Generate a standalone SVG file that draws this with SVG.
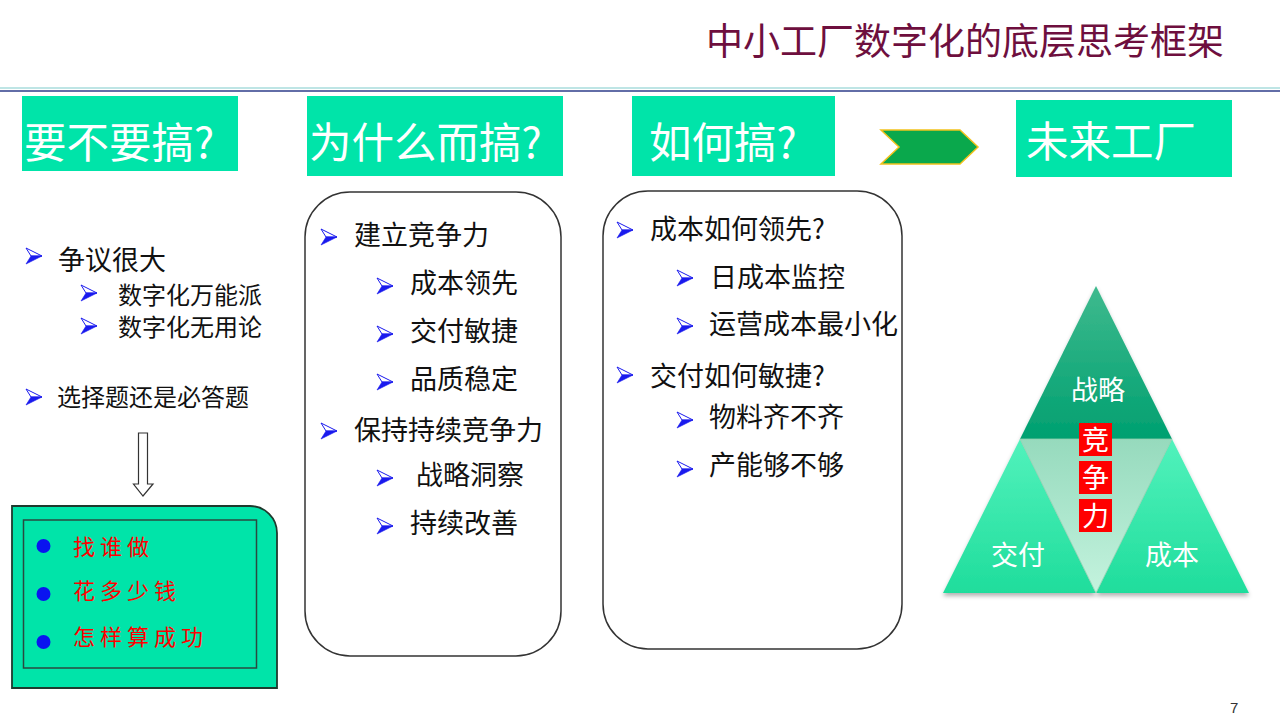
<svg xmlns="http://www.w3.org/2000/svg" width="1280" height="720" viewBox="0 0 1280 720">
<defs>
<style>
.cjk{font-family:'Noto Sans CJK SC','Noto Sans',sans-serif;}
.hd{font-family:'Noto Sans CJK SC','Noto Sans',sans-serif;fill:#ffffff;font-size:42.5px;}
.hbox{fill:#00e4a9;}
.t27{font-family:'Noto Sans CJK SC','Noto Sans',sans-serif;fill:#111111;font-size:27px;}
.t24{font-family:'Noto Sans CJK SC','Noto Sans',sans-serif;fill:#111111;font-size:24px;}
.red{font-family:'Noto Sans CJK SC','Noto Sans',sans-serif;fill:#ff0000;font-size:22px;letter-spacing:5px;}
.tw{font-family:'Noto Sans CJK SC','Noto Sans',sans-serif;fill:#ffffff;font-size:27px;text-anchor:middle;}
.panel{fill:#ffffff;stroke:#333333;stroke-width:1.5;}
</style>
<g id="bul">
<polygon points="0,0 16,8 5,8" fill="#ffffff" stroke="#1a1aee" stroke-width="1"/>
<polygon points="5,8 16,8 0,16" fill="#1a1aee" stroke="#1a1aee" stroke-width="0.6"/>
</g>
<linearGradient id="gTop" x1="0" y1="0" x2="0" y2="1">
<stop offset="0" stop-color="#3fba8e"/><stop offset="1" stop-color="#00a070"/>
</linearGradient>
<linearGradient id="gBot" x1="0" y1="0" x2="0" y2="1">
<stop offset="0" stop-color="#52f2bc"/><stop offset="1" stop-color="#1fdd9c"/>
</linearGradient>
<linearGradient id="gMid" x1="0" y1="0" x2="0" y2="1">
<stop offset="0" stop-color="#96dabd"/><stop offset="1" stop-color="#c4f3de"/>
</linearGradient>
<filter id="sh" x="-10%" y="-10%" width="120%" height="130%">
<feDropShadow dx="0" dy="3" stdDeviation="2" flood-color="#000000" flood-opacity="0.3"/>
</filter>
</defs>

<rect width="1280" height="720" fill="#ffffff"/>

<g id="title">
<text x="706" y="55" class="cjk" font-size="37" fill="#6e0f3e">中小工厂数字化的底层思考框架</text>
<line x1="0" y1="88" x2="1280" y2="88" stroke="#a8dcdc" stroke-width="1.5"/>
<line x1="0" y1="91" x2="1280" y2="91" stroke="#2e3d8a" stroke-width="1.5"/>
</g>

<g id="h1"><rect class="hbox" x="22" y="96" width="216" height="75"/><text class="hd" x="24" y="158">要不要搞?</text></g>
<g id="h2"><rect class="hbox" x="307" y="96" width="256" height="80"/><text class="hd" x="309" y="158">为什么而搞?</text></g>
<g id="h3"><rect class="hbox" x="632" y="96" width="203" height="80"/><text class="hd" x="649" y="158">如何搞?</text></g>
<g id="chev"><polygon points="881,130 960,130 978,147 960,164 881,164 899,147" fill="#0aa84c" stroke="#f2c21c" stroke-width="1.5"/></g>
<g id="h4"><rect class="hbox" x="1016" y="100" width="216" height="77"/><text class="hd" x="1026" y="157" font-size="36">未来工厂</text></g>

<g id="left">
<use href="#bul" x="26" y="248"/><text class="t27" x="58" y="270">争议很大</text>
<use href="#bul" x="81" y="285"/><text class="t24" x="118" y="304">数字化万能派</text>
<use href="#bul" x="81" y="318"/><text class="t24" x="118" y="336">数字化无用论</text>
<use href="#bul" x="26" y="389"/><text class="t24" x="57" y="406">选择题还是必答题</text>
</g>

<g id="connectors">
<polygon points="138.5,433 147.5,433 147.5,484 153,484 143,496 133.5,484 138.5,484" fill="#ffffff" stroke="#333333" stroke-width="1.2"/>
</g>

<g id="actbox">
<path d="M12,506 H250 A27,27 0 0 1 277,533 V688 H12 Z" fill="#00e4a9" stroke="#1e3a2e" stroke-width="1.8"/>
<rect x="23.5" y="520" width="233" height="148" fill="none" stroke="#2a4a40" stroke-width="1.5"/>
<circle cx="43.5" cy="546" r="7" fill="#0a14f0"/>
<circle cx="43.5" cy="594" r="7" fill="#0a14f0"/>
<circle cx="43.5" cy="642" r="7" fill="#0a14f0"/>
<text class="red" x="73" y="555">找谁做</text>
<text class="red" x="73" y="599">花多少钱</text>
<text class="red" x="73" y="645">怎样算成功</text>
</g>

<g id="why">
<rect class="panel" x="305" y="192" width="256" height="464" rx="45" ry="45"/>
<use href="#bul" x="321" y="229"/><text class="t27" x="354" y="245">建立竞争力</text>
<use href="#bul" x="377" y="278"/><text class="t27" x="410" y="293">成本领先</text>
<use href="#bul" x="377" y="326"/><text class="t27" x="410" y="341">交付敏捷</text>
<use href="#bul" x="377" y="374"/><text class="t27" x="410" y="389">品质稳定</text>
<use href="#bul" x="321" y="423"/><text class="t27" x="354" y="440">保持持续竞争力</text>
<use href="#bul" x="377" y="470"/><text class="t27" x="416" y="485">战略洞察</text>
<use href="#bul" x="377" y="518"/><text class="t27" x="410" y="533">持续改善</text>
</g>

<g id="how">
<rect class="panel" x="603" y="191" width="299" height="458" rx="45" ry="45"/>
<use href="#bul" x="617" y="222"/><text class="t27" x="650" y="239">成本如何领先?</text>
<use href="#bul" x="677" y="270"/><text class="t27" x="710" y="287">日成本监控</text>
<use href="#bul" x="677" y="318"/><text class="t27" x="709" y="334">运营成本最小化</text>
<use href="#bul" x="617" y="367"/><text class="t27" x="650" y="386">交付如何敏捷?</text>
<use href="#bul" x="677" y="412"/><text class="t27" x="709" y="427">物料齐不齐</text>
<use href="#bul" x="677" y="461"/><text class="t27" x="709" y="475">产能够不够</text>
</g>

<g id="pyramid">
<g filter="url(#sh)">
<polygon points="1096,286 1172,439 1020,439" fill="url(#gTop)"/>
<polygon points="1020,439 1096,593 943,593" fill="url(#gBot)"/>
<polygon points="1172,439 1249,593 1096,593" fill="url(#gBot)"/>
</g>
<polygon points="1020,439 1172,439 1096,593" fill="url(#gMid)" stroke="#8fcfb0" stroke-width="0.8"/>
<text class="tw" x="1098" y="400">战略</text>
<text class="tw" x="1018" y="565">交付</text>
<text class="tw" x="1172" y="565">成本</text>
<rect x="1079" y="423" width="33" height="33" fill="#ff0000"/>
<rect x="1079" y="461" width="33" height="33" fill="#ff0000"/>
<rect x="1079" y="499" width="33" height="33" fill="#ff0000"/>
<text class="tw" x="1095.5" y="450" font-size="30">竞</text>
<text class="tw" x="1095.5" y="488" font-size="30">争</text>
<text class="tw" x="1095.5" y="526" font-size="30">力</text>
</g>

<g id="page"><text x="1230" y="713" font-family="'Liberation Sans',sans-serif" font-size="15" fill="#333333">7</text></g>
</svg>
